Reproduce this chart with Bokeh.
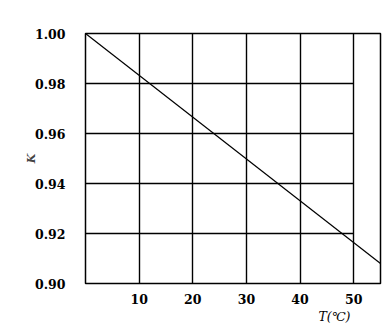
from bokeh.plotting import figure
from bokeh.models import FixedTicker, Range1d, Title
from bokeh.embed import file_html
from bokeh.resources import INLINE

# data
T = [0, 55]
K = [1.00, 0.908]
x_ticks = [10, 20, 30, 40, 50]
y_ticks = [0.90, 0.92, 0.94, 0.96, 0.98, 1.00]
y_tick_labels = ["0.90", "0.92", "0.94", "0.96", "0.98", "1.00"]
hgrid_y = [0.92, 0.94, 0.96, 0.98]
hgrid_x0 = 0
hgrid_x1 = 50

FONT = "DejaVu Serif"

p = figure(width=387, height=323, output_backend="svg", toolbar_location=None,
           x_range=Range1d(0, 55), y_range=Range1d(0.90, 1.00),
           min_border_left=85, min_border_right=7, min_border_top=33, min_border_bottom=0)
p.background_fill_color = "white"
p.border_fill_color = "white"
p.outline_line_color = "black"
p.outline_line_width = 1.5

p.ygrid.visible = False
p.xgrid.ticker = FixedTicker(ticks=x_ticks)
p.xgrid.grid_line_color = "black"
p.xgrid.grid_line_width = 1.4
p.xgrid.grid_line_alpha = 1.0

p.segment(x0=[hgrid_x0] * len(hgrid_y), x1=[hgrid_x1] * len(hgrid_y), y0=hgrid_y, y1=hgrid_y,
          line_color="black", line_width=1.3)

p.line(T, K, line_color="black", line_width=1.2)

for ax in (p.xaxis[0], p.yaxis[0]):
    ax.axis_line_color = None
    ax.major_tick_line_color = None
    ax.minor_tick_line_color = None
    ax.major_label_text_font = FONT
    ax.major_label_text_font_style = "bold"
    ax.major_label_text_font_size = "12.5px"
    ax.major_label_text_color = "black"

p.xaxis.ticker = FixedTicker(ticks=x_ticks)
p.xaxis.major_label_standoff = 4
p.yaxis.ticker = FixedTicker(ticks=y_ticks)
p.yaxis.major_label_overrides = {v: s for v, s in zip(y_ticks, y_tick_labels)}
p.yaxis.major_label_standoff = 14
p.yaxis.axis_label = "K"
p.yaxis.axis_label_text_font = FONT
p.yaxis.axis_label_text_font_style = "bold italic"
p.yaxis.axis_label_text_font_size = "11px"
p.yaxis.axis_label_standoff = -6

p.add_layout(Title(text="T(℃)", align="right", offset=30, text_font=FONT,
                   text_font_style="italic", text_font_size="12.5px",
                   text_color="black", standoff=0), "below")

open("out.html", "w").write(file_html(p, INLINE))
